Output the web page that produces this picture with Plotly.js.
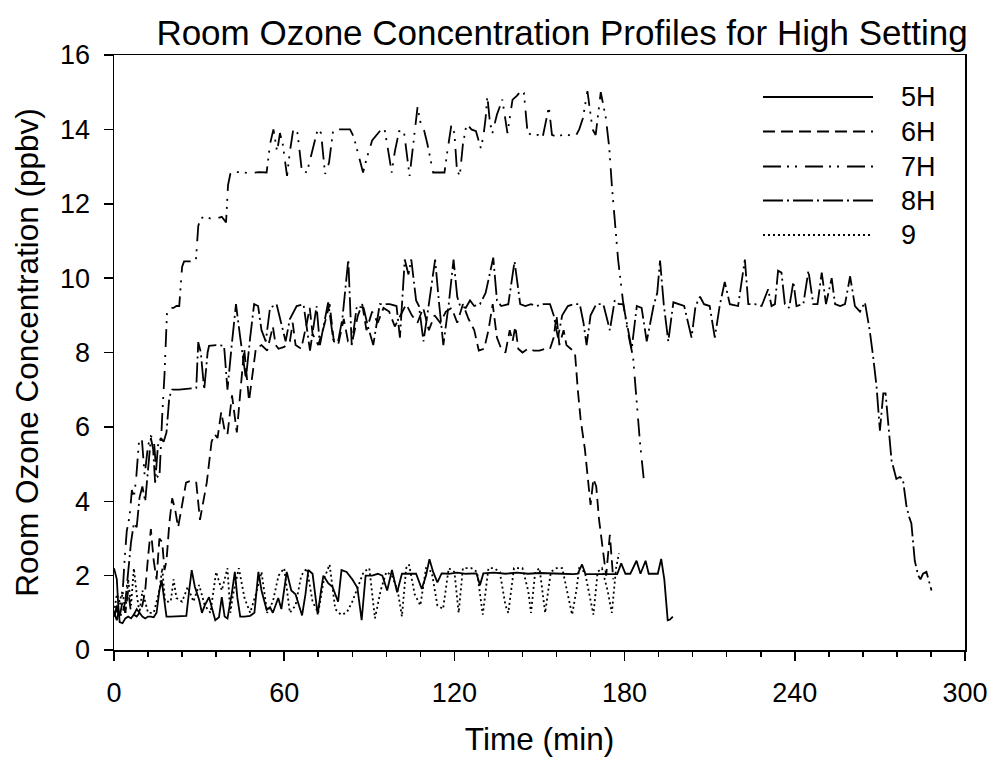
<!DOCTYPE html>
<html>
<head>
<meta charset="utf-8">
<script src="https://cdn.plot.ly/plotly-3.0.1.min.js"></script>
<style>
html,body{margin:0;padding:0;background:#fff;}
#chart{width:992px;height:763px;}
</style>
</head>
<body>
<div id="chart"></div>
<script>
// ---- Data (time in min, concentration in ppbv) ----
const seriesNames = ["5H", "6H", "7H", "8H", "9"];

const t5 = [0,1,1.5,2,3,4,5,6,7,8,9,10,11,12,13,14,15,16,16.8,17.8,18.5,20,22,24,25.5,26.5,27.4,28.5,30,31,32,33.5,34.5,35.7,37,38,39,40,41.5,42.6,43.5,44.5,46,48,49.5,50.9,52,53.8,55,56,57.9,59,60.9,62.5,64,66.3,67.5,68.5,70,71.8,73,73.8,75.5,77,79,80.2,82,84,85.8,87.3,88.7,91,93,94.6,96.3,98,99.8,101.5,104,106.5,108.5,110,111.2,112.5,114,115.5,118,121,124,127.8,129,130.2,134,138,142,146,150,154,158,162,163.5,165,166.2,170,174,177.4,178.8,180.3,182,184.2,185.6,187.4,188.5,190,191.7,192.9,194,195.2,196,197];
const v5 = [2.2,1.9,1.2,0.75,0.72,0.85,0.9,0.85,0.95,0.9,1.0,0.9,0.85,0.9,0.9,0.88,1.0,1.6,1.88,1.2,0.9,0.9,0.9,0.9,0.92,1.6,2.15,1.7,1.35,1.0,1.2,1.42,1.1,0.8,0.88,1.42,0.9,0.85,1.5,2.1,1.4,0.9,0.9,0.92,1.0,2.1,1.6,1.08,1.15,1.0,1.4,1.1,2.1,1.6,1.5,0.93,1.5,2.15,2.05,0.96,1.6,2.0,1.8,1.7,1.3,2.15,2.1,1.9,1.67,0.8,2.0,2.0,2.05,2.0,1.6,2.15,1.55,2.05,2.05,2.05,1.64,2.0,2.44,2.1,1.82,2.06,2.05,2.08,2.05,2.06,1.74,2.06,2.08,2.05,2.08,2.05,2.07,2.05,2.05,2.04,2.05,2.3,2.04,2.04,2.05,2.04,2.33,2.05,2.05,2.4,2.05,2.4,2.05,2.05,2.05,2.45,1.9,0.8,0.82,0.9];

const t6 = [0,1,2,3,4,5,6,7,8,9,10,11,12,13,14,15,16,17,17.8,18.5,19.5,20.5,21.5,22.6,24,25.4,27,29,30.3,31.5,32.7,34.4,35.5,36.5,37.8,39,40,41.6,43.3,44.5,45.9,47.6,50,52,54,56,57,58,60,62,63,64,66,68,69,70,72,74,76,77.5,79,81,82.5,84,86,87.5,89,91,93,95,97,99,101,103,105,107,109,111,113,115,117,119,121,123,125,127,128.6,130.5,132,133.5,135,136.5,138,139.5,140.5,141.5,142.5,144,146,148,150,152,153.7,155,156,157,158.5,159.5,161,162.5,163.5,164.5,166,167,168,169,170,171,172.5,173.5,174.8,175.5,176];
const v6 = [0.9,1.1,0.9,1.3,1.0,1.6,1.0,0.95,1.1,1.0,1.2,1.6,2.5,3.25,2.4,1.9,3.0,2.9,2.15,2.4,3.4,4.08,3.8,3.3,3.9,4.5,4.55,4.5,3.5,4.0,4.5,5.6,5.8,5.7,6.4,5.9,5.8,6.85,5.85,6.9,8.1,6.7,8.1,8.2,8.05,8.7,8.2,8.1,8.15,8.3,8.8,8.2,8.1,8.8,9.2,8.5,8.2,8.7,9.3,8.3,8.2,8.9,8.3,8.3,9.0,9.3,8.6,9.1,8.8,9.2,9.1,8.7,9.0,9.3,9.0,8.8,9.2,8.6,9.0,8.8,9.1,9.2,8.8,9.3,8.9,8.6,8.05,8.1,8.6,9.3,8.4,8.1,8.0,8.6,8.3,8.7,8.1,8.0,8.1,8.05,8.05,8.1,8.1,8.4,9.0,8.2,8.6,8.2,8.1,8.0,7.0,6.2,5.4,4.6,3.9,4.6,4.4,3.5,2.6,2.0,3.1,2.2,1.9];

const t7 = [0,1,2,3,3.8,4.5,5.5,6.3,7,7.8,8.8,9.8,10.8,12,13,14,15,16,17,17.8,18.7,19.5,21,22,23,24,24.7,27,28.9,29.7,30.5,32,34,36,38,39.5,40.2,41,43,45,48,51,53.8,55,56.2,57.5,58.5,59.5,61,62,63.2,64.7,66.2,68,69.5,71.8,73,74.4,75.8,77.3,80,83.2,84.5,87.8,89,91,94.2,95.4,96.5,97.9,99,100.5,102.2,104.2,105.5,107,108,109.4,110.5,112.5,114,116.5,117.5,118.9,120,120.9,121.9,123,124.3,126,127.6,129.3,130.2,131,131.6,132.5,133.4,135,136.9,138.7,140.5,142,143.4,144.5,145.8,147.5,149.4,151,153.3,154.4,156.2,158,160,162.6,164,165.3,166.9,168,168.7,169.8,171.6,173.4,174.6,175.5,176.5,177.7,179.4,181,183,184.3,185.4,186.8];
const v7 = [1.0,0.8,1.2,1.5,2.5,3.2,3.6,4.3,4.1,4.6,5.6,5.7,4.7,5.5,5.75,5.7,4.7,4.6,6.3,7.4,9.1,9.2,9.2,9.25,9.25,10.3,10.45,10.45,10.5,11.4,11.6,11.66,11.6,11.6,11.65,11.5,12.5,12.8,12.85,12.85,12.82,12.85,12.84,13.6,14.0,13.4,13.9,13.6,12.75,13.4,14.0,13.9,12.9,12.84,13.3,14.0,13.9,12.8,13.1,14.0,14.0,14.0,13.8,12.84,13.2,13.7,14.0,14.0,13.5,12.84,13.4,13.95,13.95,12.75,13.6,14.6,14.2,13.95,13.6,12.84,12.84,12.84,13.4,14.1,13.9,12.9,12.75,13.6,14.15,14.0,13.95,13.5,13.8,14.3,14.9,14.2,13.9,14.4,14.8,13.9,14.8,14.9,15.03,14.98,13.9,13.85,13.85,13.75,14.6,13.85,13.8,13.85,13.85,13.8,14.0,14.3,15.03,14.3,14.0,13.85,15.0,14.3,13.5,12.5,11.5,10.5,9.4,8.6,7.87,6.5,5.6,4.56];

const t8 = [0,1,2,3,4,5,6,7,8,9,10,11,12,13,13.8,14.5,15.5,16.5,17.5,18.5,19.5,20.5,23,26,29,29.7,30.6,31.8,33,33.5,36,38.8,40,41.5,43,44.5,46.5,48,49.4,50.8,52,53.5,55,57.3,59,60.5,62,64.4,66.8,69.1,71.4,72.6,75.5,77.3,79,80.5,82.6,83.8,85.6,88,89.5,91.4,93.7,97.2,99.6,100.8,102.5,103.8,104.8,106.5,107.5,109.1,111,113.2,114.5,116.1,118,119.7,121,122,124,125.5,127,129,131,133.7,135,136.5,139,141.2,143.2,145,147,149,151.4,153.7,155,156.5,158,160,162,164.2,165.5,166.6,168,170,172.5,174.8,176.5,178,179.5,181,182.5,184.3,186,187.8,190.2,191.5,192.5,193.8,195.4,197.2,199,201,203.6,205,206.6,208,210,211.8,213.5,215.3,217.1,220,222.4,223.6,226,228.3,230.6,231.8,233,234.1,235.3,236.5,238,239.5,240.6,243,244.8,246.5,248,249.5,251,253,254.2,256,257.7,259.5,261.2,263,264.7,266.4,267.6,268.8,270,271.2,272,272.9,274.1,275.8,277,278.1,279.3,280.2,281.1,282.3,283.5,284.3,285.2,286.4,288.2];
const v8 = [0.9,1.2,0.9,1.0,1.3,2.1,2.9,3.4,3.3,4.1,4.4,4.0,4.8,5.7,5.4,4.5,5.5,5.7,5.6,5.85,6.8,7.0,7.0,7.02,7.05,8.28,8.0,7.0,8.0,8.18,8.2,8.18,7.0,8.2,9.3,8.4,7.3,8.4,9.3,9.25,8.6,8.3,9.2,9.3,8.8,8.3,8.9,9.25,9.3,8.05,9.25,8.2,9.35,8.35,8.3,8.9,10.5,8.2,9.25,9.2,8.7,8.2,9.3,9.3,9.25,8.4,10.5,10.1,10.5,9.4,9.25,8.3,9.3,10.5,9.4,8.2,9.3,10.5,9.5,9.25,9.2,9.4,9.25,9.3,9.6,10.55,9.4,9.25,9.3,10.45,9.3,9.25,9.3,9.25,9.3,9.3,9.0,8.4,9.0,9.25,9.3,9.3,8.8,8.2,9.0,9.3,9.3,8.6,9.4,9.3,9.3,8.7,8.1,9.25,9.2,8.3,9.25,9.6,10.47,9.3,8.3,9.35,9.3,9.25,8.4,9.25,9.5,9.3,9.25,8.4,9.25,9.9,9.3,9.25,10.5,9.3,9.3,9.25,9.7,9.25,9.3,10.2,10.15,9.3,9.2,9.9,9.25,9.3,10.2,9.3,9.3,10.15,9.3,10.0,9.3,9.25,9.3,10.05,9.25,9.1,9.35,8.6,7.9,7.1,5.9,6.9,6.9,6.1,5.1,4.6,4.65,4.6,3.9,3.6,3.4,2.4,2.0,1.9,2.05,2.1,1.6];

const t9 = [0,1,2,3,4,5,6,7,8,9,10,12,14,16,17,18,20,21,22,24,26,28,30,32,34,36,38,40,41,42,44,46,48,50,52,54,56,58,60,62,64,66,68,70,72,74,76,78,80,82,84,86,88,90,92,94,96,98,100,101.5,103,104,106,108,110,112,114,116,118,120,121.5,123,126,128,130,132,134,136,138,139,141,144,146,147,148.5,150,152,154,156,158,160,161.5,163,164,166,168,169,170.5,172,174,175.5,177,178];
const v9 = [1.0,1.5,1.3,1.6,1.0,1.9,1.2,2.2,1.5,1.0,1.6,1.0,1.0,1.6,2.2,1.3,1.3,1.9,1.4,1.3,1.7,1.3,1.75,1.2,1.0,2.1,1.6,2.2,1.0,1.5,2.2,1.4,1.0,1.5,2.1,1.0,1.3,2.0,2.2,1.0,1.2,2.0,2.2,1.3,1.0,1.9,2.3,1.1,0.95,1.0,1.3,1.7,2.1,2.2,0.85,1.6,2.1,2.0,1.6,0.9,2.2,2.3,1.5,1.2,2.2,2.1,1.2,1.1,2.2,2.1,1.0,2.2,2.2,2.1,0.95,2.2,2.2,2.1,1.2,1.0,2.2,2.2,1.6,1.0,2.1,2.2,1.0,2.1,2.2,2.2,1.5,0.95,1.6,2.2,2.1,1.3,0.95,2.1,2.2,1.6,1.0,2.2,2.6];

const xTickVals = [0, 60, 120, 180, 240, 300];
const yTickVals = [0, 2, 4, 6, 8, 10, 12, 14, 16];

// ---- Styling ----
const FONT = "Liberation Sans, Arial, Helvetica, sans-serif";
const dashes = ["solid", "12px,6px", "18px,6px,2px,6px,2px,8px", "20px,4px,2px,4px", "2px,3px"];
const xs = [t5, t6, t7, t8, t9];
const ys = [v5, v6, v7, v8, v9];
const LW = 1.8;

const traces = seriesNames.map((n, i) => ({
  type: "scatter", mode: "lines", name: n,
  x: xs[i], y: ys[i],
  line: {color: "#000", width: LW, dash: dashes[i]},
  showlegend: false, hoverinfo: "skip"
}));

// Legend drawn as paper-space samples + labels (long samples like the reference)
const L = {l: 114, t: 55, w: 851, h: 595};
const px2x = p => (p - L.l) / L.w;
const py2y = p => (L.t + L.h - p) / L.h;
const legRows = [97, 131.5, 166.5, 200.5, 235];
const shapes = seriesNames.map((n, i) => ({
  type: "line", xref: "paper", yref: "paper",
  x0: px2x(763), x1: px2x(873), y0: py2y(legRows[i]), y1: py2y(legRows[i]),
  line: {color: "#000", width: LW, dash: dashes[i]}
}));
const annotations = seriesNames.map((n, i) => ({
  xref: "paper", yref: "paper", x: px2x(899), y: py2y(legRows[i]),
  xanchor: "left", yanchor: "middle", showarrow: false, text: n,
  font: {family: FONT, size: 27, color: "#000"}
}));

const layout = {
  width: 992, height: 763,
  margin: {l: L.l, r: 992 - L.l - L.w, t: L.t, b: 763 - L.t - L.h},
  paper_bgcolor: "#fff", plot_bgcolor: "#fff",
  font: {family: FONT, color: "#000", size: 27},
  title: {text: "Room Ozone Concentration Profiles for High Setting",
          font: {family: FONT, size: 35, color: "#000"},
          x: (562 - L.l) / L.w, xref: "paper", xanchor: "center",
          y: 1 - 33 / 763, yref: "container", yanchor: "middle"},
  xaxis: {
    range: [0, 300], tickvals: xTickVals, ticktext: xTickVals.map(String),
    ticks: "outside", ticklen: 9, tickwidth: 1.5, tickcolor: "#000",
    minor: {dtick: 12, ticks: "outside", ticklen: 5, tickwidth: 1.5, tickcolor: "#000", showgrid: false},
    showline: true, linewidth: 1.5, linecolor: "#000", mirror: true,
    showgrid: false, zeroline: false, ticklabelstandoff: 9,
    tickfont: {family: FONT, size: 27, color: "#000"},
    title: {text: "Time (min)", font: {family: FONT, size: 31.5, color: "#000"}, standoff: 21}
  },
  yaxis: {
    range: [0, 16], tickvals: yTickVals, ticktext: yTickVals.map(String),
    ticks: "outside", ticklen: 9, tickwidth: 1.5, tickcolor: "#000",
    showline: true, linewidth: 1.5, linecolor: "#000", mirror: true,
    showgrid: false, zeroline: false, ticklabelstandoff: 8,
    tickfont: {family: FONT, size: 27, color: "#000"},
    title: {text: "Room Ozone Concentration (ppbv)", font: {family: FONT, size: 31.5, color: "#000"}, standoff: 12}
  },
  shapes: shapes, annotations: annotations,
  showlegend: false
};

Plotly.newPlot("chart", traces, layout, {displayModeBar: false, staticPlot: true});
</script>
</body>
</html>
